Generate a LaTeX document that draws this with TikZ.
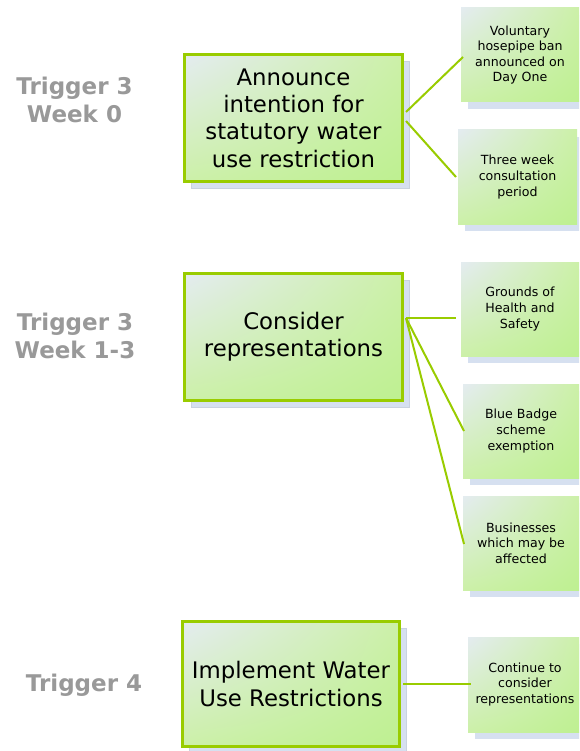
\documentclass[tikz,border=0pt]{standalone}
\usepackage{fontspec}
\setmainfont{DejaVu Sans}
\usetikzlibrary{shadows,shadings}
\definecolor{boxgreen}{RGB}{153,204,0}
\definecolor{linegreen}{RGB}{153,204,0}
\definecolor{gtl}{RGB}{228,236,240}
\definecolor{gmid}{RGB}{204,240,168}
\definecolor{gbr}{RGB}{190,240,145}
\definecolor{shadowc}{RGB}{214,224,240}
\definecolor{labelgrey}{RGB}{153,153,153}
\tikzset{
  gradfill/.style={upper left=gtl, upper right=gmid, lower left=gmid, lower right=gbr},
  mainbox/.style={gradfill, draw=boxgreen, line width=3.5pt, inner sep=0pt,
    minimum width=218pt, minimum height=127pt, align=center,
    font=\fontsize{22.8}{27.3}\selectfont,
    general shadow={shadow xshift=7pt, shadow yshift=-7pt, fill=shadowc, draw=shadowc!85!gray, line width=0.6pt}},
  childbox/.style={gradfill, draw=none, inner sep=0pt,
    minimum width=118pt, minimum height=94pt, align=center,
    font=\fontsize{12.6}{15.6}\selectfont,
    general shadow={shadow xshift=7pt, shadow yshift=-7pt, fill=shadowc}},
  triglabel/.style={text=labelgrey, align=center, font=\bfseries\fontsize{23}{28.5}\selectfont},
  conn/.style={draw=linegreen, line width=2pt}
}
\begin{document}
\begin{tikzpicture}[x=1pt,y=-1pt]
\useasboundingbox (0,0) rectangle (579,751);
\clip (0,0) rectangle (579,751);
\fill[white] (0,0) rectangle (579,751);

% labels
\node[triglabel] (l1) at (74.5,100) {Trigger 3\\Week 0};
\node[triglabel] (l2) at (75,336) {Trigger 3\\Week 1-3};
\node[triglabel] (l3) at (84,685) {Trigger 4};

% connector end points
\coordinate (h1a) at (406,112);
\coordinate (h1b) at (406,121);
\coordinate (h2) at (406,318);
\coordinate (e1) at (463,57);
\coordinate (e2) at (456,177);
\coordinate (e3) at (456,318);
\coordinate (e4) at (464,431);
\coordinate (e5) at (464,544);
\coordinate (h3) at (403,684);
\coordinate (e6) at (471,684);

% main boxes
\node[mainbox] (m1) at (293.5,118) {Announce\\intention for\\statutory water\\use restriction};
\node[mainbox] (m2) at (293.5,337) {Consider\\representations};
\node[mainbox, minimum width=217pt, minimum height=125pt] (m3) at (291,684) {Implement Water\\Use Restrictions};

% child boxes
\node[childbox] (c1) at (520,55) {Voluntary\\hosepipe ban\\announced on\\Day One};
\node[childbox, minimum width=119pt] (c2) at (517.5,177) {Three week\\consultation\\period};
\node[childbox] (c3) at (520,309) {Grounds of\\Health and\\Safety};
\node[childbox, minimum width=116pt] (c4) at (521,431) {Blue Badge\\scheme\\exemption};
\node[childbox, minimum width=116pt] (c5) at (521,543) {Businesses\\which may be\\affected};
\node[childbox, minimum width=114pt, minimum height=95pt] (c6) at (525,684.5) {Continue to\\consider\\representations};

\draw[conn] (h1a) -- (e1);
\draw[conn] (h1b) -- (e2);
\draw[conn] (h2) -- (e3);
\draw[conn] (h2) -- (e4);
\draw[conn] (h2) -- (e5);
\draw[conn] (h3) -- (e6);
\end{tikzpicture}
\end{document}
